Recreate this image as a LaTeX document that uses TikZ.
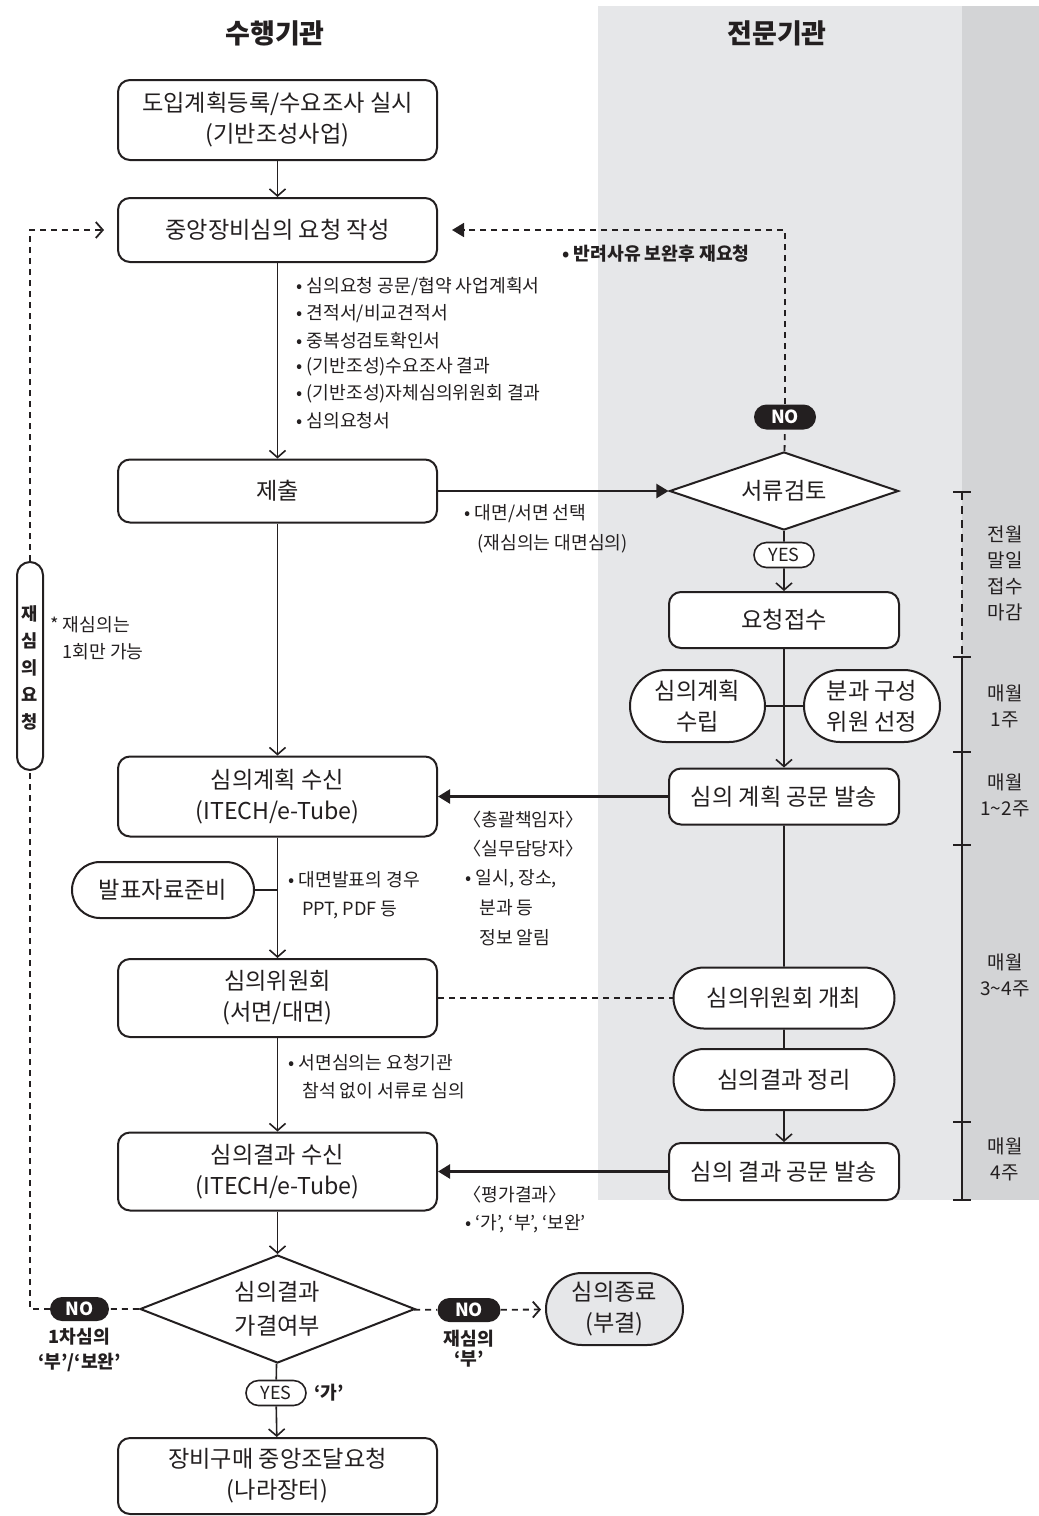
\documentclass[tikz,border=0pt]{standalone}
\usepackage{fontspec}
\setmainfont{Noto Sans CJK KR}
\usepackage{xcolor}
\usepackage{tikz}
\usetikzlibrary{arrows.meta,shapes.geometric,shapes.misc}
\definecolor{ink}{RGB}{35,31,32}
\definecolor{lanegray}{RGB}{230,231,233}
\definecolor{sidegray}{RGB}{211,212,214}
\definecolor{endgray}{RGB}{230,231,233}
\newcommand\bxfont{\fontsize{11.6}{15.5}\selectfont}
\newcommand\ntfont{\fontsize{9.1}{12}\selectfont}
\newcommand\tgfont{\fontsize{9}{10}\selectfont}
\newcommand\pdfont{\fontsize{9.5}{13}\selectfont}
\newcommand\hdfont{\fontsize{13.5}{15}\selectfont}
\tikzset{
  procbox/.style={draw=ink, line width=1pt, fill=white, rounded corners=6pt,
    minimum width=159.5pt, align=center, font=\bxfont, text=ink, inner sep=2pt},
  orgbox/.style={procbox, minimum width=115pt},
  pill/.style={draw=ink, line width=1pt, fill=white, rounded rectangle,
    align=center, font=\bxfont, text=ink, inner sep=2pt},
  decide/.style={draw=ink, line width=1pt, fill=white, diamond, aspect=2.8,
    align=center, font=\bxfont, text=ink, inner sep=1pt},
  notag/.style={fill=ink, text=white, rounded rectangle, font=\tgfont\bfseries,
    minimum height=12pt, inner sep=1pt},
  yestag/.style={draw=ink, line width=0.8pt, fill=white, rounded rectangle,
    font=\tgfont, text=ink, minimum width=32pt, minimum height=12.5pt, inner sep=1pt},
  memo/.style={font=\ntfont, text=ink, anchor=west, inner sep=0pt},
  memobold/.style={memo, font=\ntfont\bfseries},
  period/.style={font=\pdfont, text=ink, align=center},
  hd/.style={font=\hdfont\bfseries, text=ink},
  flow/.style={draw=ink, line width=0.8pt, -{Straight Barb[length=3.5pt,width=8pt]}},
  push/.style={draw=ink, line width=1.2pt, -{Triangle[length=6pt,width=7pt]}},
  joint/.style={draw=ink, line width=0.8pt},
  retdash/.style={draw=ink, line width=0.9pt, dash pattern=on 3pt off 2.5pt},
}

\begin{document}
\begin{tikzpicture}[x=0.5pt, y=-0.5pt]
  \useasboundingbox (0,0) rectangle (1039,1516);
  \fill[lanegray] (598,6) rectangle (962,1200);
  \fill[sidegray] (962,6) rectangle (1039,1200);

  \node[hd] (hdleft) at (275,33) {수행기관};
  \node[hd] (hdright) at (777,33) {전문기관};

  % 수행기관 쪽
  \node[procbox, minimum height=40pt] (plan) at (277.5,120)
    {도입계획등록/수요조사 실시\\(기반조성사업)};
  \node[procbox, minimum height=32pt] (request) at (277.5,230)
    {중앙장비심의 요청 작성};
  \node[procbox, minimum height=31.5pt] (submit) at (277.5,491) {제출};
  \node[procbox, minimum height=40pt] (planrecv) at (277.5,796.5)
    {심의계획 수신\\(ITECH/e-Tube)};
  \node[procbox, minimum height=39pt] (committee) at (277.5,998)
    {심의위원회\\(서면/대면)};
  \node[procbox, minimum height=39pt] (resultrecv) at (277.5,1171.5)
    {심의결과 수신\\(ITECH/e-Tube)};
  \node[decide, minimum width=137.5pt, minimum height=54pt,
        font=\fontsize{11.6}{17}\selectfont] (pass) at (277.5,1309)
    {심의결과\\가결여부};
  \node[procbox, minimum height=38pt] (procure) at (277.5,1476)
    {장비구매 중앙조달요청\\(나라장터)};
  \node[pill, minimum width=95pt, minimum height=28pt] (slides) at (163,890)
    {발표자료준비};
  \node[pill, fill=endgray, minimum width=72.5pt, minimum height=36pt]
    (closed) at (614.5,1309) {심의종료\\(부결)};
  \node[draw=ink, line width=1pt, fill=white, rounded corners=6.5pt,
        minimum width=13pt, minimum height=104pt, inner sep=0pt, align=center,
        text=ink, font=\fontsize{8.8}{13.4}\selectfont\bfseries]
    (retry) at (30,666) {\\[-4pt]재\\심\\의\\요\\청};

  % 전문기관 쪽
  \node[decide, minimum width=114.5pt, minimum height=39pt] (review)
    at (784,491) {서류검토};
  \node[orgbox, minimum height=28pt] (accept) at (784,620) {요청접수};
  \node[pill, minimum width=71.5pt, minimum height=36pt] (planmake)
    at (697.5,706) {심의계획\\수립};
  \node[pill, minimum width=72pt, minimum height=36pt] (panel)
    at (872,706) {분과 구성\\위원 선정};
  \node[orgbox, minimum height=28pt] (plansend) at (784,796.5)
    {심의 계획 공문 발송};
  \node[pill, minimum width=114.5pt, minimum height=30.5pt] (meeting)
    at (784,998) {심의위원회 개최};
  \node[pill, minimum width=114.5pt, minimum height=30.5pt] (summary)
    at (784,1079.5) {심의결과 정리};
  \node[orgbox, minimum height=28.5pt] (resultsend) at (784,1171.5)
    {심의 결과 공문 발송};

  % 판정 표시
  \node[notag, minimum width=33pt, minimum height=12.5pt] (noreview)
    at (785,417) {NO};
  \node[yestag] (yesreview) at (784,555) {YES};
  \node[notag, minimum width=31.5pt] (nofirst) at (79.5,1309) {NO};
  \node[notag, minimum width=33.5pt] (nosecond) at (469,1310) {NO};
  \node[yestag] (yespass) at (276,1393) {YES};

  % 메모
  \node[memo] (doc1) at (296,287) {• 심의요청 공문/협약 사업계획서};
  \node[memo] (doc2) at (296,314) {• 견적서/비교견적서};
  \node[memo] (doc3) at (296,341) {• 중복성검토확인서};
  \node[memo] (doc4) at (296,367) {• (기반조성)수요조사 결과};
  \node[memo] (doc5) at (296,394) {• (기반조성)자체심의위원회 결과};
  \node[memo] (doc6) at (296,421) {• 심의요청서};
  \node[memobold] (resend) at (562,254) {• 반려사유 보완후 재요청};
  \node[memo] (mode1) at (464,514) {• 대면/서면 선택};
  \node[memo] (mode2) at (477,544) {(재심의는 대면심의)};
  \node[memo] (once1) at (50,625) {* 재심의는};
  \node[memo] (once2) at (62,652) {1회만 가능};
  \node[memo] (who1) at (463,820) {〈총괄책임자〉};
  \node[memo] (who2) at (463,849) {〈실무담당자〉};
  \node[memo] (info1) at (465,879) {• 일시, 장소,};
  \node[memo] (info2) at (479,908) {분과 등};
  \node[memo] (info3) at (479,938) {정보 알림};
  \node[memo] (ppt1) at (288,880) {• 대면발표의 경우};
  \node[memo] (ppt2) at (302,910) {PPT, PDF 등};
  \node[memo] (paper1) at (288,1063) {• 서면심의는 요청기관};
  \node[memo] (paper2) at (302,1091) {참석 없이 서류로 심의};
  \node[memo] (grade1) at (463,1195) {〈평가결과〉};
  \node[memo] (grade2) at (465,1224) {• ‘가’, ‘부’, ‘보완’};
  \node[memobold, anchor=center, align=center,
        font=\fontsize{9.1}{12.5}\selectfont\bfseries] (firstno)
    at (79.5,1350) {1차심의\\‘부’/‘보완’};
  \node[memobold, anchor=center, align=center,
        font=\fontsize{9.1}{10}\selectfont\bfseries] (secondno)
    at (469,1349) {재심의\\‘부’};
  \node[memobold] (ga) at (314,1393) {‘가’};

  % 기간
  \draw[ink, line width=1pt, dash pattern=on 4pt off 3pt] (962,492) -- (962,657);
  \draw[ink, line width=1pt] (962,657) -- (962,1200);
  \foreach \ty in {492,657,752,845,1122,1200}
    \draw[ink, line width=1pt] (953,\ty) -- (971,\ty);
  \node[period] (wk0) at (1005,573) {전월\\말일\\접수\\마감};
  \node[period] (wk1) at (1005,706) {매월\\1주};
  \node[period] (wk2) at (1005,795) {매월\\1\textasciitilde 2주};
  \node[period] (wk3) at (1005,975) {매월\\3\textasciitilde 4주};
  \node[period] (wk4) at (1005,1159) {매월\\4주};

  % 연결
  \draw[flow] (plan) -- (request);
  \draw[flow] (request) -- (submit);
  \draw[push, line width=1pt] (submit) -- (review);
  \draw[joint] (review) -- (yesreview);
  \draw[flow] (yesreview) -- (accept);
  \draw[flow] (accept) -- (plansend);
  \draw[joint] (planmake) -- (panel);
  \draw[push] (plansend) -- (planrecv);
  \draw[joint] (plansend) -- (meeting);
  \draw[joint] (meeting) -- (summary);
  \draw[flow] (summary) -- (resultsend);
  \draw[push] (resultsend) -- (resultrecv);
  \draw[flow] (submit) -- (planrecv);
  \draw[flow] (planrecv) -- (committee);
  \draw[joint] (slides) -- (slides -| planrecv);
  \draw[retdash, line width=1pt] (committee) -- (meeting);
  \draw[flow] (committee) -- (resultrecv);
  \draw[flow] (resultrecv) -- (pass);
  \draw[joint] (pass) -- (yespass);
  \draw[flow] (yespass) -- (procure);
  \draw[retdash] (review) -- (noreview);
  \draw[retdash, -{Triangle[length=6pt,width=7pt]}, shorten >=7pt]
    (noreview) |- (request);
  \draw[retdash] (pass) -- (nofirst);
  \draw[retdash] (nofirst) -| (retry);
  \draw[retdash, -{Straight Barb[length=3.5pt,width=8pt]}, shorten >=6.5pt]
    (retry) |- (request);
  \draw[retdash] (pass) -- (nosecond);
  \draw[retdash, -{Straight Barb[length=3.5pt,width=8pt]}, shorten >=2pt]
    (nosecond) -- (closed);
\end{tikzpicture}
\end{document}
